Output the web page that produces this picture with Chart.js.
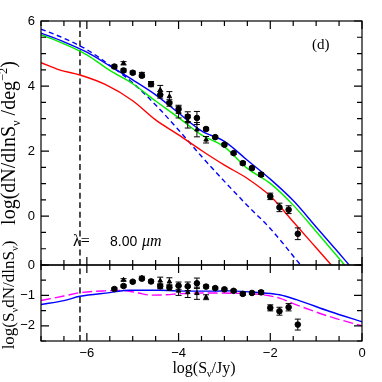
<!DOCTYPE html>
<html>
<head>
<meta charset="utf-8">
<script src="https://cdn.jsdelivr.net/npm/chart.js@4.4.0/dist/chart.umd.min.js"></script>
<style>
  html, body { margin: 0; padding: 0; background: #fff; }
  #wrap { position: relative; width: 382px; height: 382px; }
  #wrap canvas { position: absolute; left: 0; top: 0; }
</style>
</head>
<body>
<div id="wrap">
  <canvas id="chart-top" width="382" height="382"></canvas>
  <canvas id="chart-bottom" width="382" height="382"></canvas>
</div>
<script>
// axis ticks
const xTicks = [-6, -4, -2, 0];
const yTicksTop = [0, 2, 4, 6];
const yTicksBottom = [-2, -1, 0];
const minorStep = 0.5;
const lambdaCut = -6.15;

// top panel model curves: log(dN/dlnS)
const blueX = [-7, -6.5, -6.0, -5.5, -5.0, -4.5, -4.0, -3.5, -3.0, -2.5, -2.0, -1.5, -1.0, -0.5, -0.28];
const blueY = [5.63, 5.36, 5.04, 4.62, 4.19, 3.73, 3.17, 2.62, 2.30, 1.72, 1.14, 0.48, -0.33, -1.14, -1.5];
const greenX = [-7, -6.5, -6.0, -5.5, -5.0, -4.5, -4.0, -3.5, -3.0, -2.5, -2.0, -1.5, -1.0, -0.38];
const greenY = [5.58, 5.30, 4.96, 4.48, 4.07, 3.54, 3.03, 2.50, 2.13, 1.47, 1.01, 0.34, -0.47, -1.5];
const redX = [-7, -6.6, -6.15, -5.6, -5.0, -4.5, -4.0, -3.5, -3.0, -2.5, -2.0, -1.5, -1.0, -0.67];
const redY = [4.72, 4.50, 4.34, 4.05, 3.55, 2.96, 2.50, 2.02, 1.57, 1.16, 0.62, -0.17, -0.97, -1.5];
const dashX = [-7, -6.5, -6.0, -5.5, -5.0, -4.5, -4.0, -3.5, -3.0, -2.5, -2.0, -1.34];
const dashY = [5.75, 5.47, 5.12, 4.64, 4.10, 3.42, 2.65, 1.84, 1.07, 0.33, -0.38, -1.5];

// bottom panel model curves: log(S dN/dlnS)
const blueBotX = [-7, -6.5, -6.15, -5.5, -5.07, -4.41, -3.83, -3.2, -2.89, -2.16, -1.8, -1.43, -0.7, 0];
const blueBotY = [-1.30, -1.17, -1.03, -0.91, -0.83, -0.83, -0.86, -0.86, -0.85, -0.92, -0.98, -1.14, -1.53, -1.87];
const magX = [-7, -6.5, -6.15, -5.61, -5.2, -4.88, -4.6, -4.27, -3.94, -3.43, -2.78, -2.16, -1.8, -1.43, -0.7, 0];
const magY = [-1.17, -1.02, -0.91, -0.85, -0.84, -0.92, -0.99, -0.98, -0.94, -0.92, -0.93, -0.98, -1.09, -1.31, -1.70, -2.0];

// observed counts (circles)
const ptX = [-5.4, -5.2, -5.0, -4.8, -4.6, -4.4, -4.2, -4.0, -3.8, -3.6, -3.4, -3.2, -3.0, -2.8, -2.6, -2.4, -2.2, -2.0, -1.8, -1.6, -1.4];
const ptTop = [4.60, 4.48, 4.41, 4.32, 4.06, 3.73, 3.48, 3.29, 3.06, 3.02, 2.68, 2.43, 2.20, 1.94, 1.63, 1.48, 1.28, 0.61, 0.27, 0.20, -0.54];
const ptTopErr = [0.05, 0.05, 0.05, 0.05, 0.08, 0.1, 0.1, 0.12, 0.15, 0.2, 0.05, 0.04, 0.04, 0.04, 0.05, 0.05, 0.06, 0.1, 0.13, 0.12, 0.18];
const ptBot = [-0.79, -0.69, -0.55, -0.45, -0.54, -0.70, -0.74, -0.68, -0.70, -0.60, -0.71, -0.76, -0.80, -0.85, -0.95, -0.92, -0.90, -1.41, -1.52, -1.39, -1.96];
const ptBotErr = [0.04, 0.04, 0.04, 0.04, 0.05, 0.08, 0.09, 0.12, 0.14, 0.17, 0.05, 0.04, 0.04, 0.04, 0.05, 0.05, 0.06, 0.1, 0.13, 0.12, 0.18];

// observed counts (triangles)
const triX = [-5.2, -4.8, -4.4, -4.2, -4.0, -3.8, -3.6, -3.4];
const triTop = [4.70, 4.36, 3.88, 3.68, 3.20, 2.91, 2.66, 2.35];
const triTopErr = [0.05, 0.06, 0.14, 0.15, 0.18, 0.2, 0.22, 0.1];
const triBot = [-0.49, -0.42, -0.52, -0.55, -0.85, -0.90, -0.93, -1.06];
const triBotErr = [0.04, 0.05, 0.12, 0.13, 0.15, 0.17, 0.2, 0.08];

const pts = (xs, ys) => xs.map((x, i) => ({x: x, y: ys[i]}));
const fmt = v => v < 0 ? '\u2212' + Math.abs(v) : String(v);
const tickFont = {family: '"Liberation Sans", Arial, sans-serif', size: 13};
const serif = '"Liberation Serif", "Times New Roman", serif';

function curve(xs, ys, color, dash) {
  return {
    data: pts(xs, ys), showLine: true, borderColor: color, borderWidth: 1.4,
    borderDash: dash || [], pointRadius: 0, cubicInterpolationMode: 'monotone', fill: false
  };
}
function marks(xs, ys, errs, style) {
  return {
    data: pts(xs, ys), errors: errs, showLine: false, pointStyle: style,
    pointRadius: style == 'triangle' ? 2.6 : 2.8, backgroundColor: '#000', borderColor: '#000', borderWidth: 1
  };
}

// draws text with sub/superscripts: parts = [[text, mode]], mode '' | 'b' | 'p' | 'i'
function drawRich(ctx, parts, cx, cy, size, rotate) {
  const font = m => (m == 'i' ? 'italic ' : '') + ((m == 'b' || m == 'p') ? size * 0.62 : size) + 'px ' + serif;
  let total = 0;
  parts.forEach(p => { ctx.font = font(p[1]); total += ctx.measureText(p[0]).width; });
  ctx.save();
  ctx.translate(cx, cy);
  if (rotate) ctx.rotate(-Math.PI / 2);
  ctx.fillStyle = '#000';
  ctx.textBaseline = 'alphabetic';
  let x = -total / 2;
  parts.forEach(p => {
    ctx.font = font(p[1]);
    const off = p[1] == 'b' ? size * 0.25 : (p[1] == 'p' ? -size * 0.42 : 0);
    ctx.fillText(p[0], x, off);
    x += ctx.measureText(p[0]).width;
  });
  ctx.restore();
}

// frame with inward ticks on all four sides, as in the original plot
function framePlugin(yMajors) {
  return {
    id: 'frame',
    afterDatasetsDraw(chart) {
      const {ctx, chartArea: a, scales: {x, y}} = chart;
      ctx.save();
      ctx.strokeStyle = '#000';
      ctx.lineWidth = 1.2;
      ctx.strokeRect(a.left, a.top, a.right - a.left, a.bottom - a.top);
      ctx.beginPath();
      for (let k = 0; x.min + k * minorStep <= x.max + 1e-9; k++) {
        const v = x.min + k * minorStep;
        const px = x.getPixelForValue(v);
        const len = xTicks.includes(v) ? 8 : 5;
        ctx.moveTo(px, a.top); ctx.lineTo(px, a.top + len);
        ctx.moveTo(px, a.bottom); ctx.lineTo(px, a.bottom - len);
      }
      for (let k = 0; y.min + k * minorStep <= y.max + 1e-9; k++) {
        const v = y.min + k * minorStep;
        const py = y.getPixelForValue(v);
        const len = yMajors.includes(v) ? 8 : 5;
        ctx.moveTo(a.left, py); ctx.lineTo(a.left + len, py);
        ctx.moveTo(a.right, py); ctx.lineTo(a.right - len, py);
      }
      ctx.stroke();
      ctx.restore();
    }
  };
}

const errorBarPlugin = {
  id: 'errorBars',
  afterDatasetsDraw(chart) {
    const {ctx, scales: {x, y}} = chart;
    ctx.save();
    ctx.strokeStyle = '#000';
    ctx.lineWidth = 1;
    ctx.beginPath();
    chart.data.datasets.forEach(ds => {
      if (!ds.errors) return;
      ds.data.forEach((p, i) => {
        const px = x.getPixelForValue(p.x);
        const y1 = y.getPixelForValue(p.y + ds.errors[i]);
        const y2 = y.getPixelForValue(p.y - ds.errors[i]);
        ctx.moveTo(px, y1); ctx.lineTo(px, y2);
        ctx.moveTo(px - 3, y1); ctx.lineTo(px + 3, y1);
        ctx.moveTo(px - 3, y2); ctx.lineTo(px + 3, y2);
      });
    });
    ctx.stroke();
    ctx.restore();
  }
};

const topText = {
  id: 'topText',
  afterDraw(chart) {
    const ctx = chart.ctx;
    ctx.save();
    ctx.fillStyle = '#000';
    ctx.textBaseline = 'alphabetic';
    ctx.font = '15px ' + serif;
    ctx.fillText('(d)', 312, 49);
    ctx.font = '16px ' + serif;
    ctx.fillText('\u03bb=', 73, 245.5);
    ctx.font = '14px "Liberation Sans", Arial, sans-serif';
    ctx.fillText('8.00', 110, 245.5);
    ctx.font = 'italic 16px ' + serif;
    ctx.fillText('\u03bcm', 142, 245.5);
    ctx.restore();
    drawRich(ctx, [['log(dN/dlnS', ''], ['\u03bd', 'b'], [' /deg', ''], ['\u22122', 'p'], [')', '']], 15, 143, 20, true);
  }
};

const bottomText = {
  id: 'bottomText',
  afterDraw(chart) {
    const ctx = chart.ctx;
    drawRich(ctx, [['log(S', ''], ['\u03bd', 'b'], ['dN/dlnS', ''], ['\u03bd', 'b'], [')', '']], 13.5, 295, 17, true);
    drawRich(ctx, [['log(S', ''], ['\u03bd', 'b'], ['/Jy)', '']], 204, 372.5, 16, false);
  }
};

function yAxis(min, max, majors) {
  return {
    type: 'linear', min: min, max: max,
    grid: {display: false, drawTicks: false, tickLength: 0},
    border: {display: false},
    ticks: {color: '#000', font: tickFont, padding: 6, autoSkip: false, callback: fmt},
    afterBuildTicks: s => { s.ticks = majors.map(v => ({value: v})); },
    afterFit: s => { s.width = 41; }
  };
}

const common = {
  responsive: false,
  animation: false,
  events: [],
  plugins: {legend: {display: false}, tooltip: {enabled: false}}
};

new Chart(document.getElementById('chart-top'), {
  type: 'scatter',
  data: {
    datasets: [
      marks(ptX, ptTop, ptTopErr, 'circle'),
      marks(triX, triTop, triTopErr, 'triangle'),
      curve(blueX, blueY, '#0000ff'),
      curve(greenX, greenY, '#00ee00'),
      curve(redX, redY, '#ff0000'),
      curve(dashX, dashY, '#0000ff', [5, 3.5]),
      curve([lambdaCut, lambdaCut], [-1.5, 6], '#000', [6, 3.5])
    ]
  },
  options: Object.assign({}, common, {
    layout: {padding: {left: 0, right: 20, top: 21, bottom: 117}},
    scales: {
      x: {type: 'linear', min: -7, max: 0, display: false},
      y: yAxis(-1.5, 6, yTicksTop)
    }
  }),
  plugins: [framePlugin(yTicksTop), errorBarPlugin, topText]
});

new Chart(document.getElementById('chart-bottom'), {
  type: 'scatter',
  data: {
    datasets: [
      marks(ptX, ptBot, ptBotErr, 'circle'),
      marks(triX, triBot, triBotErr, 'triangle'),
      curve(blueBotX, blueBotY, '#0000ff'),
      curve(magX, magY, '#ff00ff', [10, 4]),
      curve([lambdaCut, lambdaCut], [-2.5, 0], '#000', [6, 3.5])
    ]
  },
  options: Object.assign({}, common, {
    layout: {padding: {left: 0, right: 20, top: 265, bottom: 0}},
    scales: {
      x: {
        type: 'linear', min: -7, max: 0,
        grid: {display: false, drawTicks: false, tickLength: 0},
        border: {display: false},
        ticks: {color: '#000', font: tickFont, padding: 5, autoSkip: false, maxRotation: 0, callback: fmt},
        afterBuildTicks: s => { s.ticks = xTicks.map(v => ({value: v})); },
        afterFit: s => { s.height = 41; }
      },
      y: yAxis(-2.5, 0, yTicksBottom)
    }
  }),
  plugins: [framePlugin(yTicksBottom), errorBarPlugin, bottomText]
});
</script>
</body>
</html>
